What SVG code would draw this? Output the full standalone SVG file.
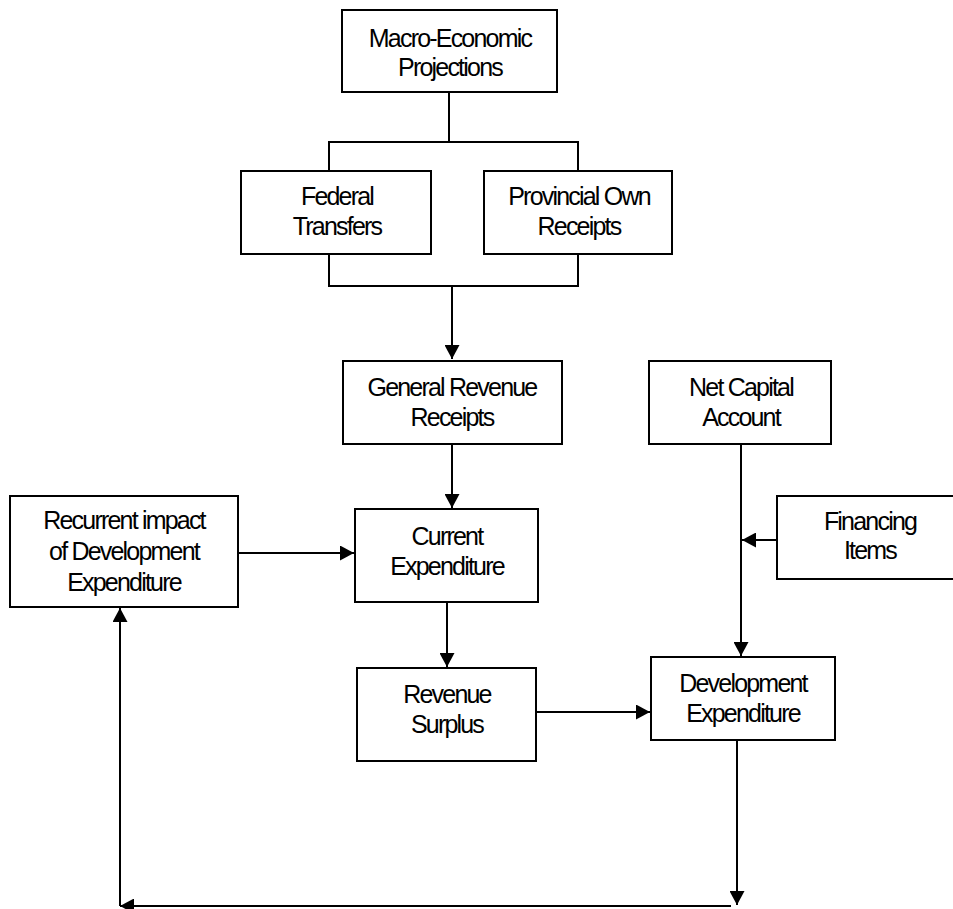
<svg xmlns="http://www.w3.org/2000/svg" width="953" height="909" viewBox="0 0 953 909">
<style>
.box{fill:#fff;stroke:#000;stroke-width:2}
.lbl{font-family:"Liberation Sans",Arial,sans-serif;font-size:25px;letter-spacing:-1.8px;fill:#000;text-anchor:middle}
.ln{fill:none;stroke:#000;stroke-width:2}
</style>
<defs>
<marker id="ah" markerUnits="userSpaceOnUse" markerWidth="15" markerHeight="15" refX="14" refY="7.5" orient="auto">
<path d="M0,0 L14,7.5 L0,15 z" fill="#000"/>
</marker>
</defs>
<rect width="953" height="909" fill="#fff"/>
<g id="connectors">
<path class="ln" d="M449,92 V142 M329,171 V142 H578 V171"/>
<path class="ln" d="M329,254 V286 H578 V254"/>
<path class="ln" d="M452,286 V359" marker-end="url(#ah)"/>
<path class="ln" d="M452,444 V508" marker-end="url(#ah)"/>
<path class="ln" d="M447,602 V667" marker-end="url(#ah)"/>
<path class="ln" d="M536,712 H650" marker-end="url(#ah)"/>
<path class="ln" d="M238,553 H354" marker-end="url(#ah)"/>
<path class="ln" d="M741,444 V656" marker-end="url(#ah)"/>
<path class="ln" d="M777,540 H742" marker-end="url(#ah)"/>
<path class="ln" d="M737,740 V905" marker-end="url(#ah)"/>
<path class="ln" d="M731,906 H120" marker-end="url(#ah)"/>
<path class="ln" d="M120,906 V608" marker-end="url(#ah)"/>
</g>
<g id="macro"><rect class="box" x="342" y="10" width="215" height="82"/>
<text class="lbl" x="450" y="47">Macro-Economic</text><text class="lbl" x="450" y="76">Projections</text></g>
<g id="federal"><rect class="box" x="241" y="171" width="190" height="83"/>
<text class="lbl" x="337" y="205">Federal</text><text class="lbl" x="337" y="235">Transfers</text></g>
<g id="provincial"><rect class="box" x="484" y="171" width="188" height="83"/>
<text class="lbl" x="579" y="205">Provincial Own</text><text class="lbl" x="579" y="235">Receipts</text></g>
<g id="general"><rect class="box" x="343" y="361" width="219" height="83"/>
<text class="lbl" x="452" y="396">General Revenue</text><text class="lbl" x="452" y="426">Receipts</text></g>
<g id="netcapital"><rect class="box" x="649" y="361" width="182" height="83"/>
<text class="lbl" x="741" y="396">Net Capital</text><text class="lbl" x="741" y="426">Account</text></g>
<g id="recurrent"><rect class="box" x="10" y="496" width="228" height="111"/>
<text class="lbl" x="124" y="529">Recurrent impact</text><text class="lbl" x="124" y="560">of Development</text><text class="lbl" x="124" y="591">Expenditure</text></g>
<g id="current"><rect class="box" x="355" y="509" width="183" height="93"/>
<text class="lbl" x="447" y="545">Current</text><text class="lbl" x="447" y="575">Expenditure</text></g>
<g id="financing"><rect class="box" x="777" y="496" width="186" height="83"/>
<text class="lbl" x="870" y="530">Financing</text><text class="lbl" x="870" y="559">Items</text></g>
<g id="surplus"><rect class="box" x="357" y="668" width="179" height="93"/>
<text class="lbl" x="447" y="703">Revenue</text><text class="lbl" x="447" y="733">Surplus</text></g>
<g id="devexp"><rect class="box" x="651" y="657" width="184" height="83"/>
<text class="lbl" x="743" y="692">Development</text><text class="lbl" x="743" y="722">Expenditure</text></g>
</svg>
